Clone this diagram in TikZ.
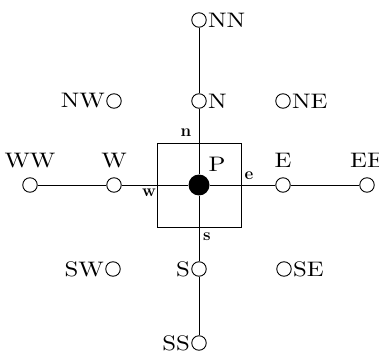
\documentclass[tikz,border=0pt]{standalone}
\usepackage{fontspec}
\newfontfamily\labfont{lmroman10-regular.otf}[FakeStretch=1.18]
\usepackage{tikz}
\begin{document}
\begin{tikzpicture}[x=1pt,y=-1pt,line width=0.9pt,
  pt/.style={circle,draw,fill=white,minimum size=14.5pt,inner sep=0pt},
  lab/.style={font=\labfont\fontsize{21}{24}\selectfont,inner sep=1pt},
  face/.style={font=\bfseries\fontsize{17}{19}\selectfont,inner sep=0pt}]
\useasboundingbox (0,0) rectangle (379,355);
% control volume
\draw (157,143) rectangle (241,227);
% nodes
\node[circle,fill=black,minimum size=21pt,inner sep=0pt] (P) at (199,185) {};
\node[pt] (NN) at (199,20) {};
\node[pt] (N) at (199,101) {};
\node[pt] (NW) at (114,101) {};
\node[pt] (NE) at (283,101) {};
\node[pt] (WW) at (30,185) {};
\node[pt] (W) at (114,185) {};
\node[pt] (E) at (283,185) {};
\node[pt] (EE) at (367,185) {};
\node[pt] (SW) at (113,269) {};
\node[pt] (S) at (199,269) {};
\node[pt] (SE) at (284,269) {};
\node[pt] (SS) at (199,343) {};
% connectors
\draw (NN) -- (N);
\draw (N) -- (P);
\draw (P) -- (S);
\draw (S) -- (SS);
\draw (WW) -- (W);
\draw (W) -- (P);
\draw (P) -- (E);
\draw (E) -- (EE);
% labels
\node[lab,anchor=west] (lNN) at (NN.east) {NN};
\node[lab,anchor=west] (lN) at (N.east) {N};
\node[lab,anchor=east] (lNW) at (NW.west) {NW};
\node[lab,anchor=west] (lNE) at (NE.east) {NE};
\node[lab,anchor=south] (lWW) at ([yshift=8pt]WW.north) {WW};
\node[lab,anchor=south] (lW) at ([yshift=8pt]W.north) {W};
\node[lab,anchor=south] (lE) at ([yshift=8pt]E.north) {E};
\node[lab,anchor=south] (lEE) at ([yshift=8pt]EE.north) {EE};
\node[lab,anchor=east] (lSW) at (SW.west) {SW};
\node[lab,anchor=east] (lS) at (S.west) {S};
\node[lab,anchor=west] (lSE) at (SE.east) {SE};
\node[lab,anchor=east] (lSS) at (SS.west) {SS};
\node[lab] (lP) at (217,164) {P};
\node[face] (fn) at (186,133) {n};
\node[face] (fe) at (249,176) {e};
\node[face] (fw) at (149,193) {w};
\node[face] (fs) at (207,237) {s};
\end{tikzpicture}
\end{document}
